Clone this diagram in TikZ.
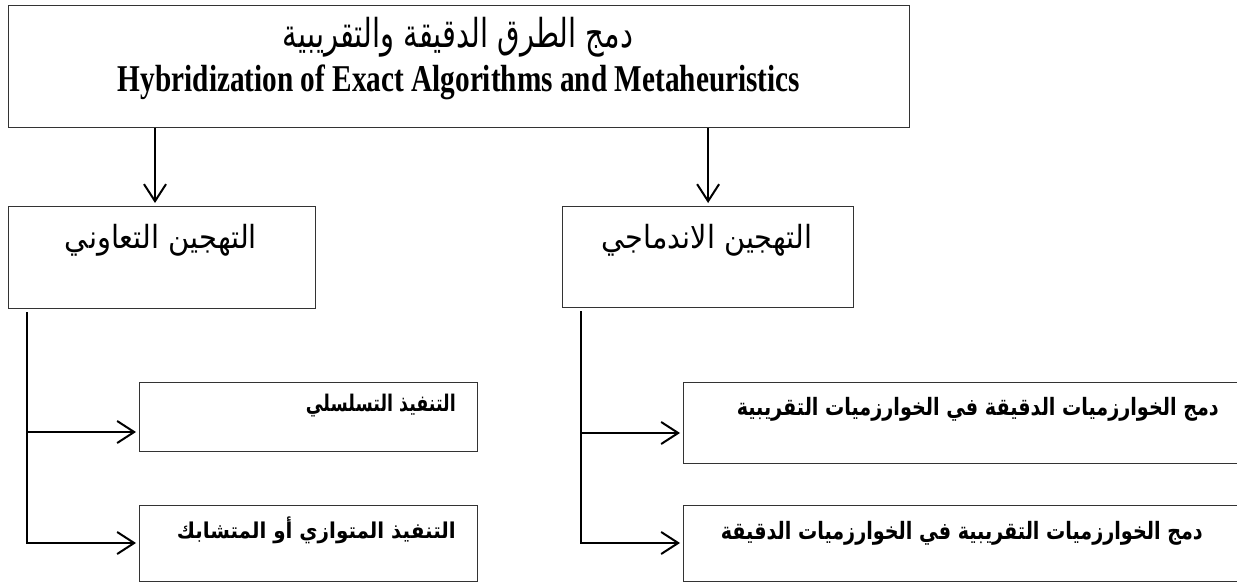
\documentclass[tikz,border=0pt]{standalone}
\usepackage{fontspec}
\setmainfont{Liberation Serif}
\newfontfamily\arabicfont[Script=Arabic]{DejaVu Sans}
\TeXXeTstate=1
\usetikzlibrary{arrows.meta}
\tikzset{
  box/.style={draw=black!80, line width=1.2pt, rectangle, inner sep=0pt, anchor=north west},
  conn/.style={draw=black, line width=2pt, line join=miter},
  arr/.style={conn, -{Straight Barb[length=17pt,width=22pt]}, shorten >=3pt},
  lbl/.style={inner sep=0pt},
}
\begin{document}
\begin{tikzpicture}[x=1pt,y=-1pt]
\clip (0,0) rectangle (1237,583);
\fill[white] (0,0) rectangle (1237,583);
% boxes
\node[box, minimum width=901pt, minimum height=122pt] (top) at (8,5) {};
\node[box, minimum width=307pt, minimum height=102pt] (coop) at (8,206) {};
\node[box, minimum width=291pt, minimum height=101pt] (integ) at (562,206) {};
\node[box, minimum width=338pt, minimum height=69pt] (seq) at (139,382) {};
\node[box, minimum width=338pt, minimum height=76pt] (par) at (139,505) {};
\node[box, minimum width=570pt, minimum height=81pt] (ea) at (683,382) {};
\node[box, minimum width=570pt, minimum height=76pt] (ae) at (683,505) {};
% texts
\node[lbl] (topar) at (458,37) {\resizebox*{350pt}{40pt}{\arabicfont\beginR دمج الطرق الدقيقة والتقريبية\endR}};
\node[lbl] (topen) at (459,82.5) {\resizebox*{682pt}{35pt}{\bfseries Hybridization of Exact Algorithms and Metaheuristics}};
\node[lbl] (coopt) at (161,240) {\resizebox*{192pt}{32pt}{\arabicfont\beginR التهجين التعاوني\endR}};
\node[lbl] (integt) at (707,240) {\resizebox*{210pt}{32pt}{\arabicfont\beginR التهجين الاندماجي\endR}};
\node[lbl, anchor=east] (seqt) at (456,406) {\resizebox*{150pt}{23pt}{\arabicfont\bfseries\beginR التنفيذ التسلسلي\endR}};
\node[lbl, anchor=east] (part) at (456,530) {\resizebox*{279pt}{27pt}{\arabicfont\bfseries\beginR التنفيذ المتوازي أو المتشابك\endR}};
\node[lbl, anchor=east] (eat) at (1219,409) {\resizebox*{482pt}{24pt}{\arabicfont\bfseries\beginR دمج الخوارزميات الدقيقة في الخوارزميات التقريبية\endR}};
\node[lbl, anchor=east] (aet) at (1203,533) {\resizebox*{482pt}{24pt}{\arabicfont\bfseries\beginR دمج الخوارزميات التقريبية في الخوارزميات الدقيقة\endR}};
% top arrows
\draw[arr] (top.south -| 155,0) -- (coop.north -| 155,0);
\draw[arr] (top.south -| integ.north) -- (integ.north);
% left branch
\coordinate (lt) at (27,312);
\coordinate (l1) at (27,432);
\coordinate (l2) at (27,543);
\draw[conn] (lt) -- (l1);
\draw[arr] (l1) -- (l1 -| seq.west);
\draw[arr] (l1) -- (l2) -- (l2 -| par.west);
% right branch
\coordinate (rt) at (581,311);
\coordinate (r1) at (581,433);
\coordinate (r2) at (581,543);
\draw[conn] (rt) -- (r1);
\draw[arr] (r1) -- (r1 -| ea.west);
\draw[arr] (r1) -- (r2) -- (r2 -| ae.west);
\end{tikzpicture}
\end{document}
